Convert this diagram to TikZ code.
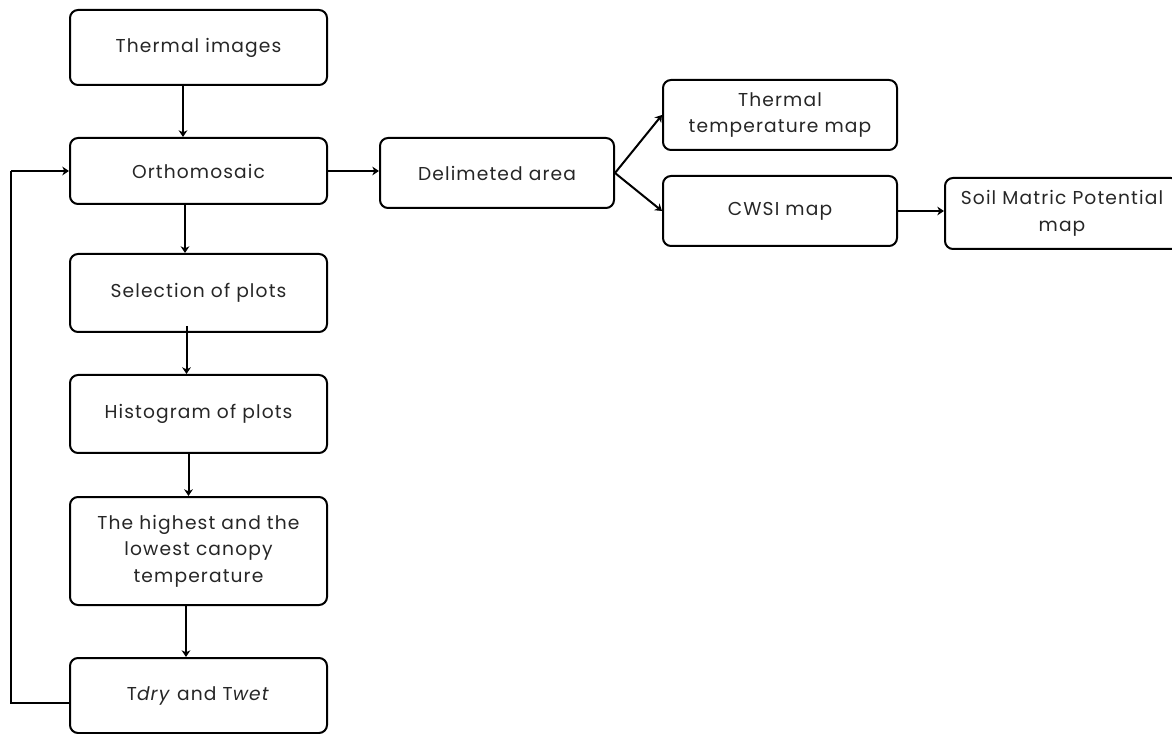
\documentclass[tikz,border=0pt]{standalone}
\usepackage{fontspec}
\setmainfont{Poppins}[LetterSpace=6]
\usetikzlibrary{arrows.meta}
\definecolor{txt}{HTML}{262626}
\tikzset{
  box/.style={draw=black, line width=1.5pt, rounded corners=6pt, align=center,
    font=\fontsize{14pt}{20pt}\selectfont, text=txt, inner sep=0pt},
  lbox/.style={box, minimum width={257*0.75pt}},
  rbox/.style={box, minimum width={234*0.75pt}},
  arr/.style={line width=1.5pt, -{Stealth[length=5pt,width=6.5pt,inset=1.5pt]}},
  ln/.style={line width=1.5pt}
}
\begin{document}
\begin{tikzpicture}[x=0.75pt,y=-0.75pt]
\useasboundingbox (0,0) rectangle (1172,734);
\node[lbox, minimum height={75*0.75pt}] (th) at (198.5,47.5) {Thermal images};
\node[lbox, minimum height={66*0.75pt}] (or) at (198.5,171) {Orthomosaic};
\node[lbox, minimum height={78*0.75pt}] (sel) at (198.5,293) {Selection of plots};
\node[lbox, minimum height={78*0.75pt}] (his) at (198.5,414) {Histogram of plots};
\node[lbox, minimum height={108*0.75pt}] (hi) at (198.5,551) {The highest and the\\lowest canopy\\temperature};
\node[lbox, minimum height={75*0.75pt}] (td) at (198.5,695.5) {T\textit{dry} and T\textit{wet}};
\node[rbox, minimum height={70*0.75pt}] (del) at (497,173) {Delimeted area};
\node[rbox, minimum height={70*0.75pt}] (ttm) at (780,115) {Thermal\\temperature map};
\node[rbox, minimum height={70*0.75pt}] (cw) at (780,211) {CWSI map};
\node[rbox, minimum height={71*0.75pt}] (soil) at (1062,213.5) {Soil Matric Potential\\map};
\draw[arr] ([xshift=-15.5*0.75pt]th.south) -- ([xshift=-15.5*0.75pt]or.north);
\draw[arr] ([xshift=-13.5*0.75pt]or.south) -- ([xshift=-13.5*0.75pt]sel.north);
\draw[arr] ([xshift=-12*0.75pt,yshift=7*0.75pt]sel.south) -- ([xshift=-12*0.75pt]his.north);
\draw[arr] ([xshift=-10*0.75pt]his.south) -- ([xshift=-10*0.75pt]hi.north);
\draw[arr] ([xshift=-12.5*0.75pt]hi.south) -- ([xshift=-12.5*0.75pt]td.north);
\coordinate (fb1) at (11,703);
\coordinate (fb2) at (11,171);
\draw[ln] ([yshift=-7.5*0.75pt]td.west) -- (fb1) -- (fb2);
\draw[arr] (fb2) -- (or.west);
\draw[arr] (or.east) -- (or.east -| del.west);
\coordinate (dj) at (del.east);
\draw[arr] (dj) -- (ttm.west);
\draw[arr] (dj) -- (cw.west);
\draw[arr] (cw.east) -- (cw.east -| soil.west);
\end{tikzpicture}
\end{document}
